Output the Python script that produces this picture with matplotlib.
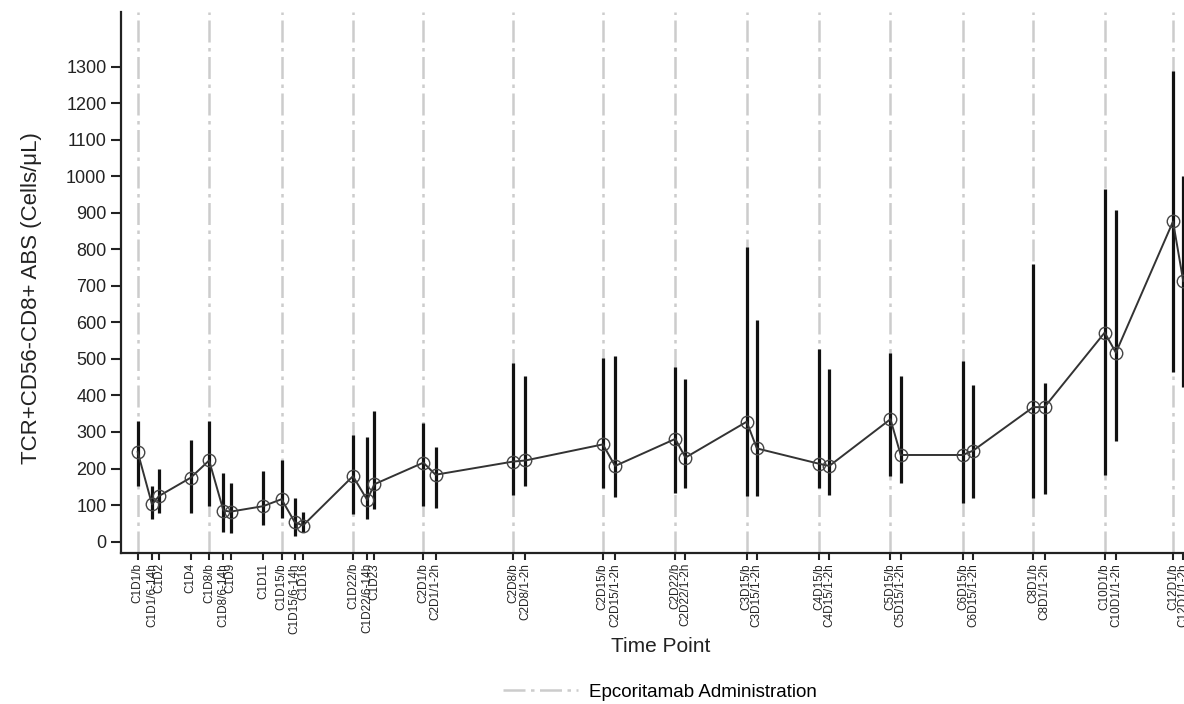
import matplotlib
matplotlib.use("Agg")
import matplotlib.pyplot as plt
from matplotlib.lines import Line2D
import numpy as np

plt.rcParams['font.family'] = ['Liberation Sans', 'DejaVu Sans']

# visit labels and their position on the time axis
time_points = ['C1D1/b', 'C1D1/6-14h', 'C1D2', 'C1D4', 'C1D8/b', 'C1D8/6-14h', 'C1D9',
               'C1D11', 'C1D15/b', 'C1D15/6-14h', 'C1D16', 'C1D22/b', 'C1D22/6-14h', 'C1D23',
               'C2D1/b', 'C2D1/1-2h', 'C2D8/b', 'C2D8/1-2h', 'C2D15/b', 'C2D15/1-2h',
               'C2D22/b', 'C2D22/1-2h', 'C3D15/b', 'C3D15/1-2h', 'C4D15/b', 'C4D15/1-2h',
               'C5D15/b', 'C5D15/1-2h', 'C6D15/b', 'C6D15/1-2h', 'C8D1/b', 'C8D1/1-2h',
               'C10D1/b', 'C10D1/1-2h', 'C12D1/b', 'C12D1/1-2h']
x_pos = [0, 1.4, 2.1, 5.2, 7.0, 8.4, 9.1, 12.3, 14.1, 15.4, 16.2, 21.1, 22.5, 23.2,
         28.0, 29.2, 36.8, 38.0, 45.6, 46.8, 52.7, 53.7, 59.7, 60.7, 66.8, 67.8,
         73.8, 74.8, 80.9, 81.9, 87.8, 88.9, 94.8, 95.9, 101.5, 102.5]

# mean count and the lower / upper ends of the bars
mean = [245, 102, 125, 175, 222, 85, 82, 97, 116, 53, 44, 179, 114, 157,
        216, 183, 219, 222, 266, 207, 281, 230, 328, 255, 213, 207,
        335, 237, 237, 249, 368, 368, 572, 517, 876, 713]
lower = [152, 61, 79, 79, 97, 27, 23, 45, 64, 14, 25, 75, 61, 89,
         97, 91, 128, 153, 146, 123, 134, 146, 125, 125, 146, 128,
         180, 161, 105, 118, 118, 130, 182, 276, 465, 424]
upper = [329, 152, 200, 277, 329, 189, 159, 193, 223, 118, 80, 293, 285, 357,
         325, 260, 490, 453, 502, 509, 479, 445, 806, 607, 526, 472,
         515, 453, 494, 428, 759, 433, 964, 908, 1289, 1001]

# dosing visits
dose_x = [0, 7.0, 14.1, 21.1, 28.0, 36.8, 45.6, 52.7, 59.7, 66.8, 73.8, 80.9, 87.8, 94.8, 101.5]

W, H = 1184, 704
fig = plt.figure(figsize=(W / 100, H / 100), dpi=100)

x_min, x_max = -1.64, 106
px_per_unit = 10.2
left_px, bottom_px, top_px = 121, 553.3, 11.7
ax = fig.add_axes([left_px / W, (H - bottom_px) / H,
                   (x_max - x_min) * px_per_unit / W, (bottom_px - top_px) / H])

dose_style = dict(color='#cccccc', lw=1.8, linestyle=(0, (8.8, 2.2, 1.4, 2.2)))
for xv in dose_x:
    ax.axvline(xv, zorder=1, **dose_style)

mean_a = np.array(mean)
yerr = [mean_a - np.array(lower), np.array(upper) - mean_a]
ax.errorbar(x_pos, mean, yerr=yerr, fmt='none', ecolor='#111111', elinewidth=2.3,
            capsize=0, zorder=2)
ax.plot(x_pos, mean, color='#333333', lw=1.4, marker='o', markersize=9,
        markerfacecolor='none', markeredgecolor='#444444', markeredgewidth=1.0, zorder=3)

ax.set_xlim(x_min, x_max)
ax.set_ylim(-32, 1450)
ax.set_yticks(np.arange(0, 1301, 100))
ax.set_xticks(x_pos)
ax.set_xticklabels(time_points, rotation=90, fontsize=8.5, va='top', ha='center')
ax.tick_params(axis='y', labelsize=13, length=7, width=1.5, colors='#222222')
ax.tick_params(axis='x', length=5, width=1.5, pad=2, colors='#222222')

for side in ['top', 'right']:
    ax.spines[side].set_visible(False)
for side in ['left', 'bottom']:
    ax.spines[side].set_linewidth(1.6)
    ax.spines[side].set_color('#222222')

fig.text(661 / W, 1 - 647 / H, 'Time Point', fontsize=15, ha='center', va='center',
         color='#222222')
fig.text(32 / W, 1 - 298 / H, 'TCR+CD56-CD8+ ABS (Cells/μL)', fontsize=16, rotation=90,
         ha='center', va='center', color='#222222')

handle = Line2D([], [], **dose_style)
fig.legend([handle], ['Epcoritamab Administration'], loc='center',
           bbox_to_anchor=(660 / W, 1 - 692 / H), frameon=False, fontsize=13.5,
           handlelength=4, handletextpad=0.6)

fig.savefig('out.png', dpi=100)
